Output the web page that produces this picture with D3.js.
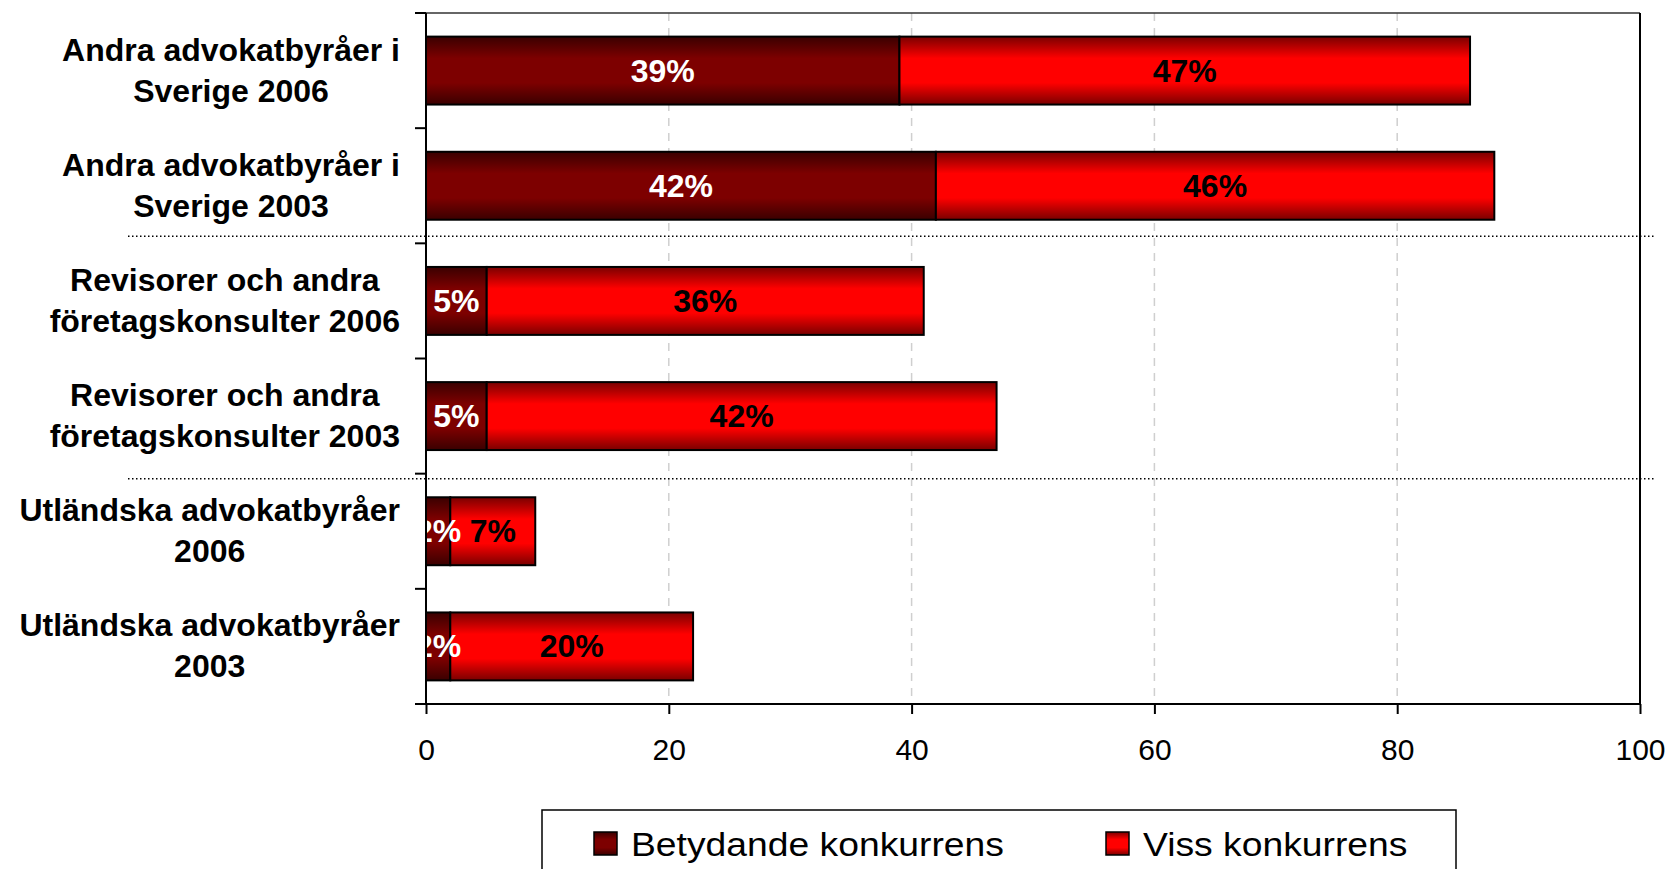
<!DOCTYPE html>
<meta charset="utf-8">
<style>
body { margin: 0; background: #fff; font-family: "Liberation Sans", Arial, sans-serif; }
.axis path, .axis line { stroke: #000; stroke-width: 2; fill: none; }
.axis text { font-size: 30px; fill: #000; font-family: "Liberation Sans", Arial, sans-serif; }
</style>
<script src="https://d3js.org/d3.v7.min.js"></script>
<body>
<div id="chart"></div>
<script>
// data (top to bottom)
var categories = [
  ["Andra advokatbyråer i", "Sverige 2006"],
  ["Andra advokatbyråer i", "Sverige 2003"],
  ["Revisorer och andra", "företagskonsulter 2006"],
  ["Revisorer och andra", "företagskonsulter 2003"],
  ["Utländska advokatbyråer", "2006"],
  ["Utländska advokatbyråer", "2003"]
];
var betydande = [39, 42, 5, 5, 2, 2];
var viss = [47, 46, 36, 42, 7, 20];
var seriesNames = ["Betydande konkurrens", "Viss konkurrens"];
var xTicks = [0, 20, 40, 60, 80, 100];

// set the dimensions and margins
var W = 1673, H = 869;
var margin = {top: 13, right: 33, bottom: 165, left: 426},
    width = 1640 - margin.left,
    height = 704 - margin.top;

var svg = d3.select("#chart")
  .append("svg")
    .attr("width", W)
    .attr("height", H);

var defs = svg.append("defs");

// bar gradients: dark edges, bright middle
function grad(id, edge, mid) {
  var g = defs.append("linearGradient")
    .attr("id", id)
    .attr("x1", 0).attr("y1", 0).attr("x2", 0).attr("y2", 1);
  [[0, edge], [0.32, mid], [0.68, mid], [1, edge]].forEach(function(s) {
    g.append("stop").attr("offset", s[0]).attr("stop-color", s[1]);
  });
}
grad("g0", "#3a0000", "#7d0000");
grad("g1", "#7a0000", "#ff0000");

defs.append("clipPath").attr("id", "plotclip")
  .append("rect").attr("width", width).attr("height", height);

var g = svg.append("g")
  .attr("transform", "translate(" + margin.left + "," + margin.top + ")");

var x = d3.scaleLinear().domain([0, 100]).range([0, width]);
var y = d3.scaleBand()
  .domain(d3.range(categories.length))
  .range([0, height])
  .paddingInner(0.41)
  .paddingOuter(0.205);

// gridlines
g.append("g")
  .selectAll("line")
  .data(xTicks.slice(1, -1))
  .enter()
  .append("line")
    .attr("x1", function(d) { return x(d); })
    .attr("x2", function(d) { return x(d); })
    .attr("y1", 0)
    .attr("y2", height)
    .attr("stroke", "#cfcfcf")
    .attr("stroke-width", 1.5)
    .attr("stroke-dasharray", "8,7");

// plot border top / right
g.append("line").attr("x1", 0).attr("x2", width).attr("y1", 0).attr("y2", 0)
  .attr("stroke", "#333").attr("stroke-width", 1.5);
g.append("line").attr("x1", width).attr("x2", width).attr("y1", 0).attr("y2", height)
  .attr("stroke", "#000").attr("stroke-width", 2);

// stacked bars
var stacked = categories.map(function(c, i) {
  return [
    {i: i, s: 0, x0: 0, x1: betydande[i], v: betydande[i]},
    {i: i, s: 1, x0: betydande[i], x1: betydande[i] + viss[i], v: viss[i]}
  ];
});
var segs = [].concat.apply([], stacked);

g.append("g")
  .selectAll("rect")
  .data(segs)
  .enter()
  .append("rect")
    .attr("x", function(d) { return x(d.x0); })
    .attr("y", function(d) { return y(d.i); })
    .attr("width", function(d) { return x(d.x1) - x(d.x0); })
    .attr("height", y.bandwidth())
    .attr("fill", function(d) { return "url(#g" + d.s + ")"; })
    .attr("stroke", "#000")
    .attr("stroke-width", 2);

// value labels
g.append("g")
  .attr("clip-path", "url(#plotclip)")
  .selectAll("text")
  .data(segs)
  .enter()
  .append("text")
    .attr("x", function(d) { return x((d.x0 + d.x1) / 2); })
    .attr("y", function(d) { return y(d.i) + y.bandwidth() / 2 + 11; })
    .attr("text-anchor", "middle")
    .style("font-size", "32px")
    .style("font-weight", "bold")
    .attr("fill", function(d) { return d.s == 0 ? "#fff" : "#000"; })
    .text(function(d) { return d.v + "%"; });

// axes
var yBounds = d3.range(categories.length + 1).map(function(k) { return k * y.step(); });
var yAx = g.append("g").attr("class", "axis");
yAx.append("line").attr("x1", 0).attr("x2", 0).attr("y1", 0).attr("y2", height);
yAx.selectAll(".tk")
  .data(yBounds)
  .enter()
  .append("line")
    .attr("x1", -11).attr("x2", 0)
    .attr("y1", function(d) { return d; })
    .attr("y2", function(d) { return d; });

var xAx = g.append("g")
  .attr("class", "axis")
  .attr("transform", "translate(0," + height + ")")
  .call(d3.axisBottom(x).tickValues(xTicks).tickSize(10).tickPadding(25).tickSizeOuter(0));
xAx.select(".domain").attr("d", "M-11,0H" + width);

// category labels, two lines, block right aligned at the axis
var labels = g.append("g");
categories.forEach(function(lines, i) {
  var cy = y(i) + y.bandwidth() / 2;
  var t = labels.append("text")
    .attr("text-anchor", "middle")
    .style("font-size", "32px")
    .style("font-weight", "bold");
  lines.forEach(function(l, k) {
    t.append("tspan")
      .attr("y", cy - 10 + k * 41)
      .text(l);
  });
  var w = d3.max(t.selectAll("tspan").nodes(), function(n) { return n.getComputedTextLength(); });
  t.selectAll("tspan").attr("x", -26 - w / 2);
});

// dotted group separators
var seps = [{after: 1, off: -7}, {after: 3, off: 5}];
g.append("g")
  .selectAll("line")
  .data(seps)
  .enter()
  .append("line")
    .attr("x1", 128 - margin.left)
    .attr("x2", 1654 - margin.left)
    .attr("y1", function(d) { return (d.after + 1) * y.step() + d.off; })
    .attr("y2", function(d) { return (d.after + 1) * y.step() + d.off; })
    .attr("stroke", "#000")
    .attr("stroke-width", 1.5)
    .attr("stroke-dasharray", "1.5,2.5");

// legend
var leg = svg.append("g").attr("transform", "translate(542,810)");
leg.append("rect")
  .attr("width", 914)
  .attr("height", 100)
  .attr("fill", "#fff")
  .attr("stroke", "#000")
  .attr("stroke-width", 1.5);
var legX = [52, 564];
seriesNames.forEach(function(n, i) {
  leg.append("rect")
    .attr("x", legX[i]).attr("y", 22)
    .attr("width", 23).attr("height", 23)
    .attr("fill", "url(#g" + i + ")")
    .attr("stroke", "#000")
    .attr("stroke-width", 1.5);
  // legend text in the original is slightly stretched sideways
  leg.append("text")
    .attr("transform", "translate(" + (legX[i] + 37) + ",46) scale(1.165,1.03)")
    .style("font-size", "32px")
    .text(n);
});
</script>
</body>
